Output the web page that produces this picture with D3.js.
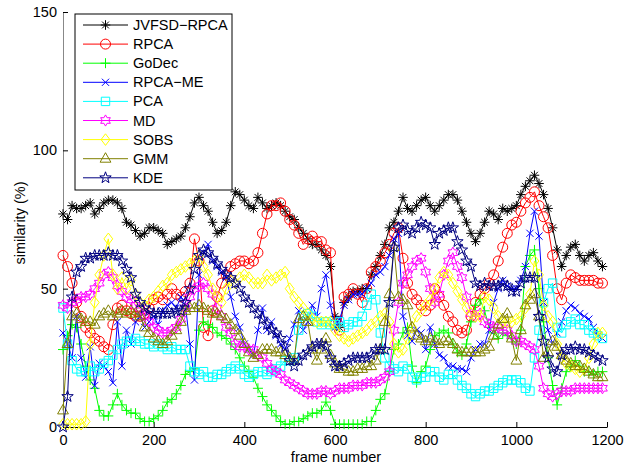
<!DOCTYPE html>
<html><head><meta charset="utf-8">
<script src="https://cdn.jsdelivr.net/npm/d3@7"></script>
<style>
body{margin:0;background:#fff}
text{font-family:"Liberation Sans",Arial,Helvetica,sans-serif}
</style>
</head><body>
<svg id="chart" width="636" height="466"></svg>
<script>
// x categories: frame numbers
const frames = d3.range(0, 1200, 10);

const jvfsdRpca = [
77,75,80,79,79,80,81,77,79,81,
82,82,81,79,74,73,71,69,70,72,
72,71,70,66,67,68,69,72,76,81,
83,80,78,74,70,71,74,80,85,84,
82,80,79,83,81,79,80,81,80,78,
76,75,72,70,68,66,66,64,62,58,
40,36,45,47,49,49,50,50,55,58,
62,66,72,74,78,83,79,78,80,82,
83,80,78,80,82,84,84,82,78,74,
70,67,70,74,78,77,75,79,78,79,
80,84,87,89,91,88,84,79,72,64,
58,62,65,66,62,60,62,63,60,58];

const rpca = [
62,58,52,45,40,36,34,32,31,29,
28,37,43,44,42,41,40,40,41,43,
46,47,46,48,50,48,47,49,52,68,
60,36,33,42,47,52,55,58,59,60,
60,59,60,63,70,77,80,80,81,78,
75,73,70,66,68,69,67,67,64,63,
37,35,47,48,50,48,45,50,56,58,
60,63,66,70,72,61,52,48,46,44,
42,44,50,47,44,40,38,35,34,35,
40,45,48,50,52,55,60,65,70,73,
74,78,81,83,85,80,76,72,62,50,
46,52,55,54,53,53,53,53,52,52];

const godec = [
28,33,37,36,30,22,17,14,6,4,
4,8,12,8,6,5,5,3,2,2,
3,4,6,9,10,12,15,19,20,21,
35,38,37,36,34,33,32,30,28,25,
22,20,18,14,11,8,6,4,2,1,
1,2,2,3,4,5,5,6,9,6,
1,1,1,1,1,1,1,2,2,6,
10,12,20,28,30,34,36,22,16,20,
22,28,33,34,35,34,30,27,26,30,
38,44,46,42,36,34,32,34,33,32,
30,35,58,62,64,50,38,25,15,8,
14,20,22,24,22,20,20,19,20,20];

const rpcaMe = [
34,30,25,40,25,18,29,15,23,22,
20,16,38,22,35,30,38,40,36,38,
40,37,42,44,45,43,47,44,30,17,
55,63,66,60,58,56,54,47,40,36,
30,28,26,35,43,35,38,33,30,28,
32,37,42,35,38,44,40,50,55,44,
36,39,44,46,48,48,48,50,52,55,
56,58,62,68,70,40,33,31,35,34,
28,36,30,26,25,22,22,21,21,20,
25,28,30,30,35,45,50,53,51,50,
50,53,58,70,78,69,45,35,30,34,
38,42,44,43,41,40,39,36,33,32];

const pca = [
43,30,24,21,20,20,22,20,21,23,
24,26,28,30,31,31,32,31,30,30,
29,30,29,28,29,28,28,28,22,20,
19,20,18,18,19,19,20,21,22,21,
19,18,19,20,20,19,20,21,22,24,
24,25,35,40,41,40,38,37,38,37,
37,38,36,37,38,38,40,44,48,46,
34,25,22,21,20,22,21,18,17,18,
18,20,20,18,17,19,19,17,15,14,
12,11,12,13,13,14,15,16,17,17,
17,16,14,13,25,35,45,50,52,36,
34,37,38,39,37,37,35,34,33,32];

const md = [
44,43,45,46,47,47,48,50,52,55,
56,54,51,49,47,46,44,43,40,38,
36,35,34,34,35,36,39,43,47,50,
51,52,50,48,43,40,36,34,30,29,
29,28,28,26,25,23,21,20,19,17,
16,15,14,13,12,12,12,13,13,12,
13,14,14,14,15,15,15,16,16,16,
17,18,20,35,45,52,55,58,60,61,
56,50,45,48,55,60,63,58,54,47,
41,40,41,38,37,36,36,35,35,33,
31,31,30,29,28,22,14,12,11,12,
13,13,13,14,14,14,14,14,14,14];

const sobs = [
1,1,1,1,1,2,30,45,55,62,
68,55,50,54,50,53,48,45,44,46,
47,49,51,52,55,56,57,58,59,60,
62,58,55,50,47,45,50,53,52,54,
55,54,52,52,52,55,53,54,55,56,
50,47,45,43,41,39,38,38,38,38,
35,33,32,31,32,33,34,35,37,38,
40,41,38,30,27,28,32,36,40,42,
44,46,50,54,56,55,52,49,46,43,
41,40,40,47,46,43,40,38,38,38,
39,40,43,48,60,55,44,40,38,30,
25,23,22,21,20,21,25,30,34,34];

const gmm = [
6,30,40,41,39,38,38,37,40,41,
42,40,41,42,41,42,41,40,36,34,
32,31,30,31,33,35,38,42,43,43,
44,43,42,41,41,40,39,37,35,33,
30,27,25,26,28,28,28,27,27,26,
25,24,39,40,38,28,24,28,32,26,
23,21,21,20,20,21,21,22,22,24,
28,38,48,65,47,46,44,36,33,32,
31,32,31,30,31,31,30,28,27,27,
27,27,27,28,29,33,37,39,41,32,
24,35,44,46,48,40,25,27,31,29,
26,24,23,22,22,21,20,19,18,18];

const kde = [
0,11,47,56,58,61,61,62,62,62,
63,62,62,60,57,54,48,45,43,42,
41,41,41,41,41,42,42,45,50,57,
62,64,63,61,59,57,55,54,52,50,
47,45,43,41,39,37,35,34,32,29,
24,22,24,26,27,29,30,30,29,25,
22,22,23,24,25,25,25,25,26,28,
28,28,45,65,72,73,71,70,72,74,
73,72,66,70,71,72,72,67,64,60,
58,52,51,52,51,51,51,52,51,49,
49,52,54,54,54,40,31,25,21,20,
26,28,28,29,28,28,27,26,25,24];

const seriesNames = ["JVFSD\u2212RPCA","RPCA","GoDec","RPCA\u2212ME","PCA","MD","SOBS","GMM","KDE"];
const seriesValues = [jvfsdRpca, rpca, godec, rpcaMe, pca, md, sobs, gmm, kde];
const seriesColors = ["#000000","#ff0000","#00ff00","#0000ff","#00ffff","#ff00ff","#ffff00","#808000","#000080"];
const seriesMarkers = ["asterisk","circle","plus","cross","square","hexagram","diamond","triangle","pentagram"];

const xTicks = [0,200,400,600,800,1000,1200];
const yTicks = [0,50,100,150];
const xLabel = "frame number";
const yLabel = "similarity (%)";

// marker path builders
function star(n, ro, ri){
  const pts=[];
  for(let i=0;i<2*n;i++){
    const a=-Math.PI/2+i*Math.PI/n, r=i%2?ri:ro;
    pts.push([r*Math.cos(a), r*Math.sin(a)]);
  }
  return "M"+pts.map(p=>p[0].toFixed(2)+","+p[1].toFixed(2)).join("L")+"Z";
}
const markerPath = {
  asterisk: (()=>{const r=4.8,d=3.4;return `M${-r},0H${r}M0,${-r}V${r}M${-d},${-d}L${d},${d}M${-d},${d}L${d},${-d}`;})(),
  circle: "M5,0A5,5 0 1,1 -5,0A5,5 0 1,1 5,0Z",
  plus: "M-5,0H5M0,-5V5",
  cross: "M-3.6,-3.6L3.6,3.6M-3.6,3.6L3.6,-3.6",
  square: "M-4.2,-4.2H4.2V4.2H-4.2Z",
  hexagram: star(6, 5.6, 3.2),
  diamond: "M0,-5.8L4.4,0L0,5.8L-4.4,0Z",
  triangle: "M0,-6L5.4,3.5L-5.4,3.5Z",
  pentagram: star(5, 6, 2.4)
};

const svg = d3.select("#chart");
const x = d3.scaleLinear().domain([0,1200]).range([63,607]);
const y = d3.scaleLinear().domain([0,150]).range([427,12]);

// axes
const gx = svg.append("g").attr("transform","translate(0,427)")
  .call(d3.axisBottom(x).tickValues(xTicks).tickFormat(d3.format("d")).tickSizeInner(-5).tickSizeOuter(0).tickPadding(8));
const gy = svg.append("g").attr("transform","translate(63,0)")
  .call(d3.axisLeft(y).tickValues(yTicks).tickFormat(d3.format("d")).tickSizeInner(-5).tickSizeOuter(0).tickPadding(6));
[gx,gy].forEach(g=>{
  g.selectAll("text").attr("font-size","14.5px").attr("fill","#000")
   .style("font-family",'"Liberation Sans",Arial,sans-serif');
  g.selectAll("line").attr("stroke","#000");
});
gx.select(".domain").attr("stroke","#000");
gy.select(".domain").attr("stroke","#888");

svg.append("text").attr("x",336).attr("y",462).attr("text-anchor","middle")
  .attr("font-size","14.5px").text(xLabel);
svg.append("text").attr("transform","translate(25,223) rotate(-90)").attr("text-anchor","middle")
  .attr("font-size","14.5px").text(yLabel);

// series
const line = d3.line().x((d,i)=>x(frames[i])).y(d=>y(d));
seriesValues.forEach((vals,k)=>{
  const g = svg.append("g");
  g.append("path").attr("d",line(vals)).attr("fill","none")
    .attr("stroke",seriesColors[k]).attr("stroke-width",1);
  g.selectAll("path.m").data(vals).enter().append("path").attr("class","m")
    .attr("transform",(d,i)=>`translate(${x(frames[i])},${y(d)})`)
    .attr("d",markerPath[seriesMarkers[k]])
    .attr("fill","none").attr("stroke",seriesColors[k]).attr("stroke-width",1);
});

// legend
const lg = svg.append("g");
lg.append("rect").attr("x",75).attr("y",14).attr("width",157).attr("height",176)
  .attr("fill","#fff").attr("stroke","#000").attr("stroke-width",1);
seriesNames.forEach((nm,k)=>{
  const yy = 25 + k*19.1;
  lg.append("line").attr("x1",83).attr("x2",128).attr("y1",yy).attr("y2",yy)
    .attr("stroke",seriesColors[k]).attr("stroke-width",1);
  lg.append("path").attr("transform",`translate(105.5,${yy})`).attr("d",markerPath[seriesMarkers[k]])
    .attr("fill","none").attr("stroke",seriesColors[k]).attr("stroke-width",1);
  lg.append("text").attr("x",133).attr("y",yy).attr("dy","0.35em")
    .attr("font-size","14.5px").text(nm);
});
</script>
</body></html>
